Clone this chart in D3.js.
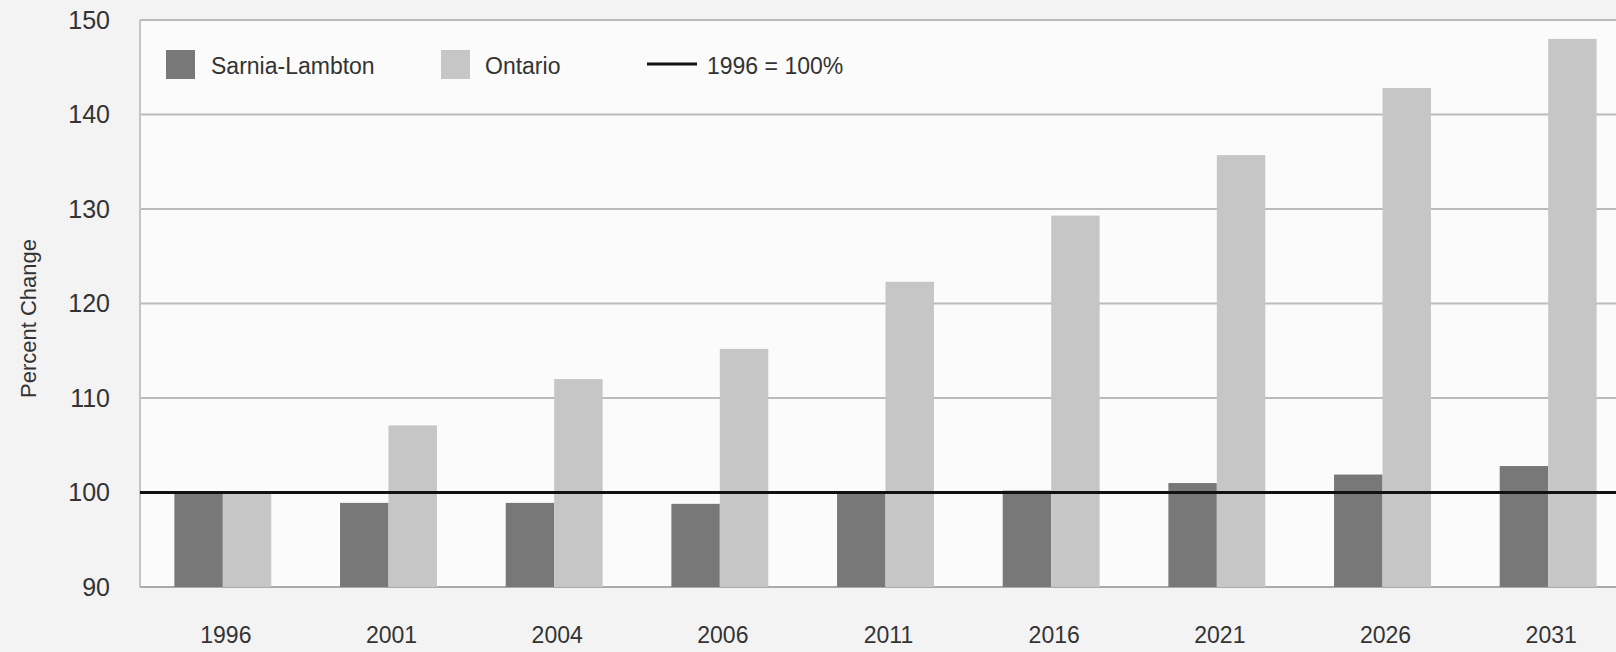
<!DOCTYPE html>
<html>
<head>
<meta charset="utf-8">
<script src="https://cdn.jsdelivr.net/npm/d3@7"></script>
<style>
  html, body { margin: 0; padding: 0; background: #f3f3f3; }
  svg { display: block; }
  text { font-family: "Liberation Sans", Arial, sans-serif; fill: #333; }
</style>
</head>
<body>
<div id="chart"></div>
<script>
const years = ["1996", "2001", "2004", "2006", "2011", "2016", "2021", "2026", "2031"];
const seriesNames = ["Sarnia-Lambton", "Ontario"];
const sarnia = [100, 98.9, 98.9, 98.8, 100.1, 100.2, 101.0, 101.9, 102.8];
const ontario = [100, 107.1, 112.0, 115.2, 122.3, 129.3, 135.7, 142.8, 148.0];
const yTicks = [90, 100, 110, 120, 130, 140, 150];
const baseline = 100;
const baselineLabel = "1996 = 100%";
const yTitle = "Percent Change";
const colors = { "Sarnia-Lambton": "#787878", "Ontario": "#c6c6c6" };

const W = 1616, H = 652;
const plot = { left: 140, right: 1631, top: 20, bottom: 587 };

const svg = d3.select("#chart").append("svg").attr("width", W).attr("height", H);

const y = d3.scaleLinear().domain([90, 150]).range([plot.bottom, plot.top]);
const x0 = d3.scaleBand().domain(years).range([plot.left, plot.right]).paddingInner(0.415).paddingOuter(0.2075);
const x1 = d3.scaleBand().domain(seriesNames).range([0, x0.bandwidth()]);

// plot background
svg.append("rect").attr("x", plot.left).attr("y", plot.top)
  .attr("width", W - plot.left).attr("height", plot.bottom - plot.top)
  .attr("fill", "#fbfbfb");

// gridlines
svg.append("g").selectAll("line").data(yTicks.filter(t => t !== 90)).join("line")
  .attr("x1", plot.left).attr("x2", W)
  .attr("y1", d => y(d)).attr("y2", d => y(d))
  .attr("stroke", "#bbbbbb").attr("stroke-width", 2);

// left border and bottom axis line
svg.append("line").attr("x1", plot.left).attr("x2", plot.left)
  .attr("y1", plot.top).attr("y2", plot.bottom)
  .attr("stroke", "#c4c4c4").attr("stroke-width", 2);
svg.append("line").attr("x1", plot.left).attr("x2", W)
  .attr("y1", plot.bottom).attr("y2", plot.bottom)
  .attr("stroke", "#aaaaaa").attr("stroke-width", 2);

// y axis labels
const yAxis = d3.axisLeft(y).tickValues(yTicks).tickSize(0).tickPadding(30);
const gy = svg.append("g").attr("transform", `translate(${plot.left},0)`).call(yAxis);
gy.select(".domain").remove();
gy.selectAll("text").style("font-size", "25px").style("font-family", "Liberation Sans, Arial, sans-serif").attr("fill", "#333");

// x axis labels
const xAxis = d3.axisBottom(x0).tickSize(0).tickPadding(40);
const gx = svg.append("g").attr("transform", `translate(0,${plot.bottom})`).call(xAxis);
gx.select(".domain").remove();
gx.selectAll("text").style("font-size", "23px").style("font-family", "Liberation Sans, Arial, sans-serif").attr("fill", "#333")
  .attr("dx", 3);

// bars
const rows = years.map((yr, i) => ({ year: yr, values: [
  { key: "Sarnia-Lambton", value: sarnia[i] },
  { key: "Ontario", value: ontario[i] }
]}));

svg.append("g").selectAll("g").data(rows).join("g")
  .attr("transform", d => `translate(${x0(d.year)},0)`)
  .selectAll("rect").data(d => d.values).join("rect")
  .attr("x", d => x1(d.key))
  .attr("width", x1.bandwidth())
  .attr("y", d => y(d.value))
  .attr("height", d => plot.bottom - y(d.value))
  .attr("fill", d => colors[d.key]);

// baseline line
svg.append("line").attr("x1", plot.left).attr("x2", W)
  .attr("y1", y(baseline)).attr("y2", y(baseline))
  .attr("stroke", "#111").attr("stroke-width", 3);

// y title
svg.append("text")
  .attr("transform", `translate(36,${(plot.top + plot.bottom) / 2 + 15}) rotate(-90)`)
  .attr("text-anchor", "middle")
  .style("font-size", "22px")
  .style("font-family", "Liberation Sans Narrow, Liberation Sans, Arial, sans-serif")
  .text(yTitle);

// legend
const lg = svg.append("g");
lg.append("rect").attr("x", 166).attr("y", 50).attr("width", 29).attr("height", 29).attr("fill", colors["Sarnia-Lambton"]);
lg.append("text").attr("x", 211).attr("y", 74).style("font-size", "23px")
  .style("font-family", "Liberation Sans Narrow, Liberation Sans, Arial, sans-serif").text(seriesNames[0]);
lg.append("rect").attr("x", 441).attr("y", 50).attr("width", 29).attr("height", 29).attr("fill", colors["Ontario"]);
lg.append("text").attr("x", 485).attr("y", 74).style("font-size", "23px")
  .style("font-family", "Liberation Sans Narrow, Liberation Sans, Arial, sans-serif").text(seriesNames[1]);
lg.append("line").attr("x1", 647).attr("x2", 697).attr("y1", 64).attr("y2", 64).attr("stroke", "#111").attr("stroke-width", 3);
lg.append("text").attr("x", 707).attr("y", 74).style("font-size", "23px")
  .style("font-family", "Liberation Sans Narrow, Liberation Sans, Arial, sans-serif").text(baselineLabel);
</script>
</body>
</html>
